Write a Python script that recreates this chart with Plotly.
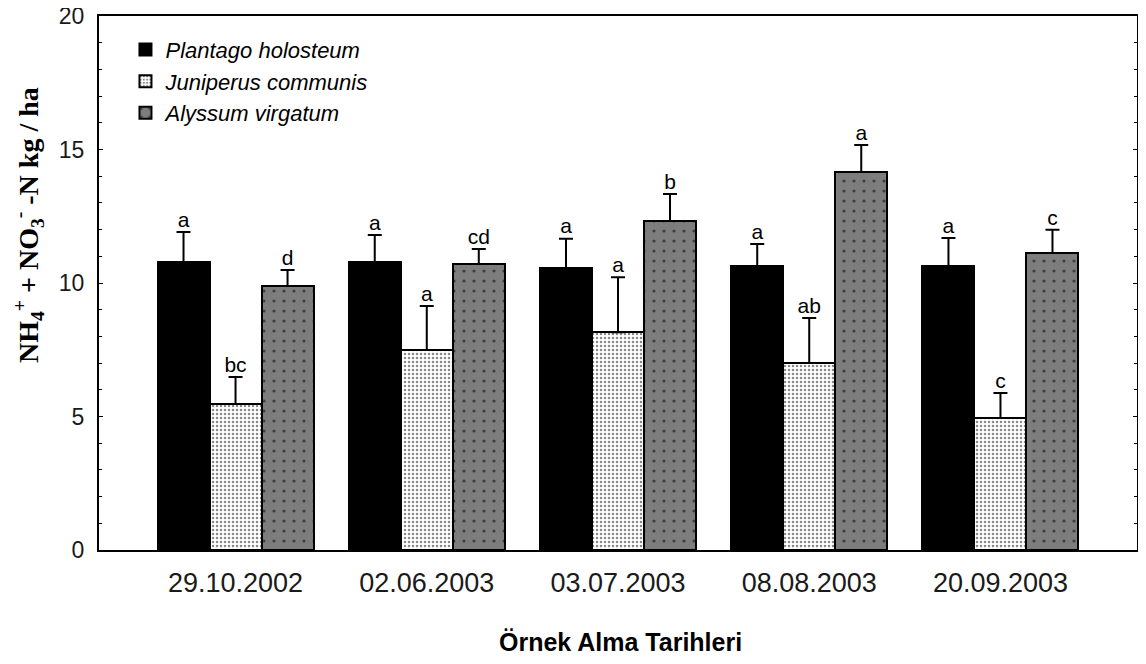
import plotly.graph_objects as go

dates = ["29.10.2002", "02.06.2003", "03.07.2003", "08.08.2003", "20.09.2003"]
species = ["Plantago holosteum", "Juniperus communis", "Alyssum virgatum"]
plantago = [10.79, 10.79, 10.56, 10.64, 10.64]
plantago_err = [1.12, 1.01, 1.10, 0.82, 1.05]
juniperus = [5.47, 7.49, 8.16, 7.00, 4.94]
juniperus_err = [1.01, 1.65, 2.06, 1.69, 0.94]
alyssum = [9.89, 10.71, 12.32, 14.16, 11.12]
alyssum_err = [0.60, 0.56, 1.01, 1.01, 0.87]
plantago_lbl = ["a", "a", "a", "a", "a"]
juniperus_lbl = ["bc", "a", "a", "ab", "c"]
alyssum_lbl = ["d", "cd", "b", "a", "c"]

values = [plantago, juniperus, alyssum]
errors = [plantago_err, juniperus_err, alyssum_err]
labels = [plantago_lbl, juniperus_lbl, alyssum_lbl]

bw = 0.272
offsets = [-bw, 0.0, bw]
patterns = [
    dict(shape="", fillmode="replace"),
    dict(shape=".", fgcolor="#111111", bgcolor="#ffffff", size=4, solidity=0.3),
    dict(shape=".", fgcolor="#000000", bgcolor="#7d7d7d", size=10, solidity=0.08),
]
colors = ["#000000", "#ffffff", "#7d7d7d"]

pos = list(range(1, len(dates) + 1))
fig = go.Figure()
for k in range(3):
    xs = [p + offsets[k] for p in pos]
    fig.add_trace(go.Bar(
        x=xs, y=values[k], width=bw, name=species[k], legendgroup=species[k],
        marker=dict(color=colors[k], pattern=patterns[k],
                    line=dict(color="#000000", width=2)),
        error_y=dict(type="data", array=errors[k], arrayminus=[0]*5,
                     symmetric=False, color="#000000", thickness=2, width=7),
    ))
for k in range(3):
    xs = [p + offsets[k] for p in pos]
    tops = [v + e for v, e in zip(values[k], errors[k])]
    fig.add_trace(go.Scatter(
        x=xs, y=tops, mode="text", text=labels[k], textposition="top center",
        textfont=dict(family="Liberation Sans", size=21, color="#000000"),
        showlegend=False, hoverinfo="skip", cliponaxis=False,
    ))

fig.update_layout(
    width=1138, height=656,
    margin=dict(l=91, r=9, t=8, b=114, autoexpand=False),
    paper_bgcolor="#ffffff", plot_bgcolor="#ffffff",
    showlegend=True,
    legend=dict(x=0.0255, y=0.976, xanchor="left", yanchor="top",
                font=dict(family="Liberation Sans", size=22, color="#000000",
                          style="italic"),
                bgcolor="rgba(0,0,0,0)", itemsizing="constant",
                traceorder="grouped", tracegroupgap=0, itemwidth=30),
    bargap=0,
    annotations=[
        dict(text="<b>NH<sub>4</sub><sup>+</sup> + NO<sub>3</sub><sup>-</sup> -N kg / ha</b>",
             xref="paper", yref="paper", x=(29 - 99) / 1038, y=(550 - 225) / 534,
             xanchor="center", yanchor="middle", textangle=-90, showarrow=False,
             font=dict(family="Liberation Serif", size=28, color="#000000")),
        dict(text="<b>Örnek Alma Tarihleri</b>",
             xref="paper", yref="paper", x=(620 - 99) / 1038, y=(550 - 642) / 534,
             xanchor="center", yanchor="middle", showarrow=False,
             font=dict(family="Liberation Sans", size=25, color="#000000")),
    ],
)
fig.update_xaxes(
    range=[0.286, 5.714], tickmode="array", tickvals=pos, ticktext=dates,
    showline=True, linecolor="#000000", linewidth=2, mirror=True,
    ticks="", showgrid=False, zeroline=False, automargin=False,
    ticklabelstandoff=8,
    tickfont=dict(family="Liberation Sans", size=27, color="#1a1a1a"),
)
fig.update_yaxes(
    range=[0, 20], tickvals=[0, 5, 10, 15, 20],
    showline=True, linecolor="#000000", linewidth=2, mirror="ticks",
    ticks="inside", ticklen=4, tickcolor="#000000",
    minor=dict(dtick=1, ticks="inside", ticklen=3, tickcolor="#000000"),
    showgrid=False, zeroline=False, automargin=False,
    ticklabelstandoff=8, ticklabeloverflow="allow",
    tickfont=dict(family="Liberation Sans", size=23, color="#1a1a1a"),
)
fig.write_html("out.html")
